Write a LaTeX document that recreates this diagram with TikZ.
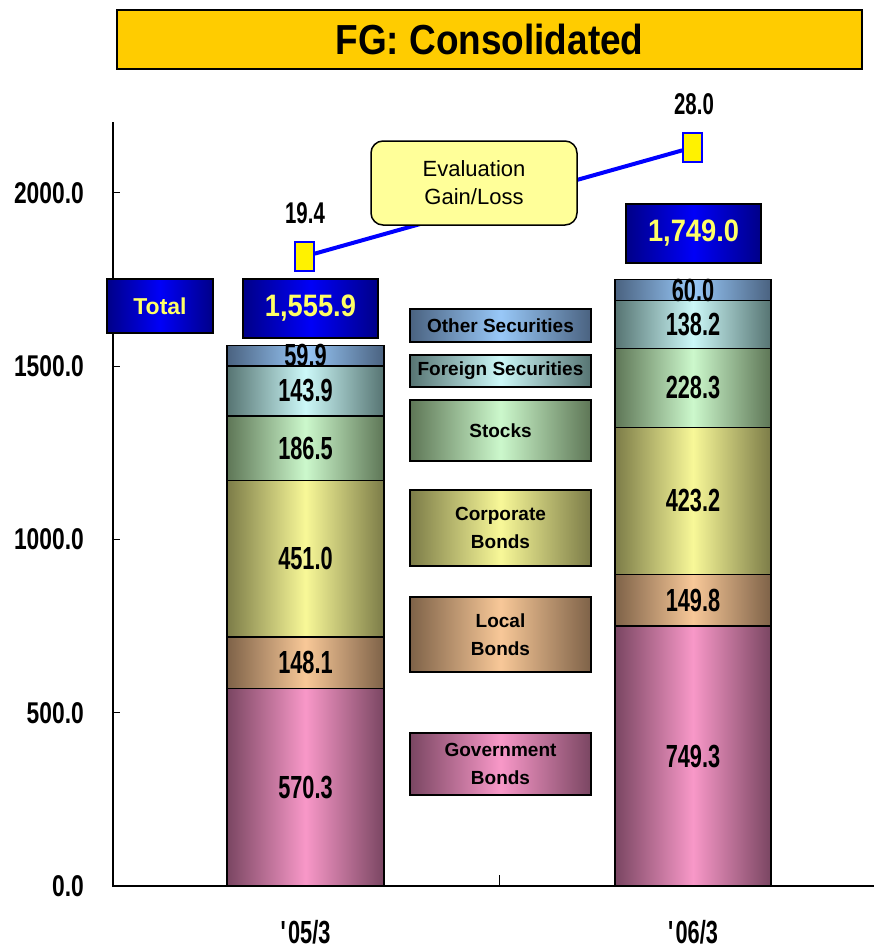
\documentclass[tikz,border=0pt]{standalone}
\usepackage{fontspec}
\setmainfont{Liberation Sans}
\newfontfamily\narrowfont[FakeStretch=0.68]{Liberation Sans}
\newfontfamily\axisfont[FakeStretch=0.76]{Liberation Sans}
\newfontfamily\titlefont[FakeStretch=0.88]{Liberation Sans}
\definecolor{govd}{HTML}{7A4662}
\definecolor{govl}{HTML}{F898C8}
\definecolor{locd}{HTML}{7E6248}
\definecolor{locl}{HTML}{F8C898}
\definecolor{cord}{HTML}{7C7C48}
\definecolor{corl}{HTML}{F8F898}
\definecolor{stod}{HTML}{5E7656}
\definecolor{stol}{HTML}{CCF8CC}
\definecolor{ford}{HTML}{567472}
\definecolor{forl}{HTML}{CCF8F8}
\definecolor{othd}{HTML}{4A6280}
\definecolor{othl}{HTML}{98C8F8}
\definecolor{navy}{HTML}{000088}
\definecolor{brightblue}{HTML}{0000F8}
\definecolor{totyellow}{HTML}{FFFF66}
\definecolor{gold}{HTML}{FFCC00}
\definecolor{paleyellow}{HTML}{FFFF99}
\begin{document}
\begin{tikzpicture}[x=1pt, y=-1pt,
  seg/.style={draw=black, line width=1.5pt, inner sep=0pt},
  gov/.style={left color=govd, right color=govd, middle color=govl},
  loc/.style={left color=locd, right color=locd, middle color=locl},
  cor/.style={left color=cord, right color=cord, middle color=corl},
  sto/.style={left color=stod, right color=stod, middle color=stol},
  for/.style={left color=ford, right color=ford, middle color=forl},
  oth/.style={left color=othd, right color=othd, middle color=othl},
  num/.style={inner sep=0pt, font=\narrowfont\bfseries\fontsize{32}{32}\selectfont},
  axlab/.style={inner sep=0pt, anchor=east, font=\axisfont\bfseries\fontsize{30}{30}\selectfont},
  legbox/.style={seg, minimum width=181pt, align=center, font=\bfseries\fontsize{19}{28}\selectfont},
  totbox/.style={draw=black, line width=1.5pt, left color=navy, right color=navy, middle color=brightblue, text=totyellow},
  marker/.style={draw=blue, line width=1.5pt, fill=yellow, minimum width=19pt, minimum height=29pt, inner sep=0pt}]
\useasboundingbox (0,0) rectangle (874,950);

% title
\node[draw=black, line width=1.5pt, fill=gold, minimum width=745pt, minimum height=59pt, font=\titlefont\bfseries\fontsize{42}{42}\selectfont] (title) at (489.5,39.5) {FG: Consolidated};

% axes
\draw[line width=1.2pt] (113,122) -- (113,886) -- (874,886);
\draw[line width=1pt] (499,886) -- (499,875);
\foreach \y/\lab in {886/0.0, 712.7/500.0, 539.3/1000.0, 366/1500.0, 192.7/2000.0}{
  \draw[line width=1pt] (113,\y) -- (120,\y);
  \node[axlab] at (84,\y) {\lab};
}

% '05/3
\node[seg, gov, minimum width=157pt, minimum height=197.7pt] (g05) at (305.5,787.2) {};
\node[seg, loc, minimum width=157pt, minimum height=51.3pt] (l05) at (305.5,662.6) {};
\node[seg, cor, minimum width=157pt, minimum height=156.4pt] (c05) at (305.5,558.8) {};
\node[seg, sto, minimum width=157pt, minimum height=64.7pt] (s05) at (305.5,448.3) {};
\node[seg, for, minimum width=157pt, minimum height=49.9pt] (f05) at (305.5,391.0) {};
\node[seg, oth, minimum width=157pt, minimum height=20.8pt] (o05) at (305.5,355.7) {};
\node[num] (g05v) at (g05) {570.3};
\node[num] (l05v) at (l05) {148.1};
\node[num] (c05v) at (c05) {451.0};
\node[num] (s05v) at (s05) {186.5};
\node[num] (f05v) at (f05) {143.9};
\node[num] (o05v) at (o05) {59.9};

% '06/3
\node[seg, gov, minimum width=156pt, minimum height=259.8pt] (g06) at (693,756.1) {};
\node[seg, loc, minimum width=156pt, minimum height=51.9pt] (l06) at (693,600.2) {};
\node[seg, cor, minimum width=156pt, minimum height=146.7pt] (c06) at (693,500.9) {};
\node[seg, sto, minimum width=156pt, minimum height=79.2pt] (s06) at (693,387.9) {};
\node[seg, for, minimum width=156pt, minimum height=47.9pt] (f06) at (693,324.4) {};
\node[seg, oth, minimum width=156pt, minimum height=20.8pt] (o06) at (693,290.0) {};
\node[num] (g06v) at (g06) {749.3};
\node[num] (l06v) at (l06) {149.8};
\node[num] (c06v) at (c06) {423.2};
\node[num] (s06v) at (s06) {228.3};
\node[num] (f06v) at (f06) {138.2};
\node[num] (o06v) at (o06) {60.0};

\node[num] (cat05) at (305.5,932) {\textquotesingle05/3};
\node[num] (cat06) at (693,932) {\textquotesingle06/3};

% legend
\node[legbox, oth, minimum height=33pt] (legoth) at (500.5,325.5) {Other Securities};
\node[legbox, for, minimum height=32pt] (legfor) at (500.5,371) {Foreign Securities};
\node[legbox, sto, minimum height=61pt] (legsto) at (500.5,430.5) {Stocks};
\node[legbox, cor, minimum height=76pt] (legcor) at (500.5,528) {Corporate\\Bonds};
\node[legbox, loc, minimum height=75pt] (legloc) at (500.5,634.5) {Local\\Bonds};
\node[legbox, gov, minimum height=62pt] (leggov) at (500.5,764) {Government\\Bonds};

% totals
\node[totbox, minimum width=106pt, minimum height=54pt, font=\bfseries\fontsize{23}{23}\selectfont] (tot) at (160,306) {Total};
\node[totbox, minimum width=135pt, minimum height=59pt, font=\titlefont\bfseries\fontsize{31}{31}\selectfont] (tot05) at (310.5,308.5) {1,555.9};
\node[totbox, minimum width=135pt, minimum height=59pt, font=\titlefont\bfseries\fontsize{31}{31}\selectfont] (tot06) at (693.5,233.5) {1,749.0};

% evaluation gain/loss
\node[marker] (m05) at (304.5,256.5) {};
\node[marker] (m06) at (692.5,147.5) {};
\draw[blue, line width=4pt] (m05) -- (m06);
\node[num, font=\narrowfont\bfseries\fontsize{30}{30}\selectfont] (v05) at (305,213) {19.4};
\node[num, font=\narrowfont\bfseries\fontsize{30}{30}\selectfont] (v06) at (694,104) {28.0};
\node[draw=black, line width=1.5pt, fill=paleyellow, rounded corners=12pt, minimum width=206pt, minimum height=84pt, align=center, font=\fontsize{22}{28}\selectfont] (eval) at (474,183) {Evaluation\\Gain/Loss};
\end{tikzpicture}
\end{document}
